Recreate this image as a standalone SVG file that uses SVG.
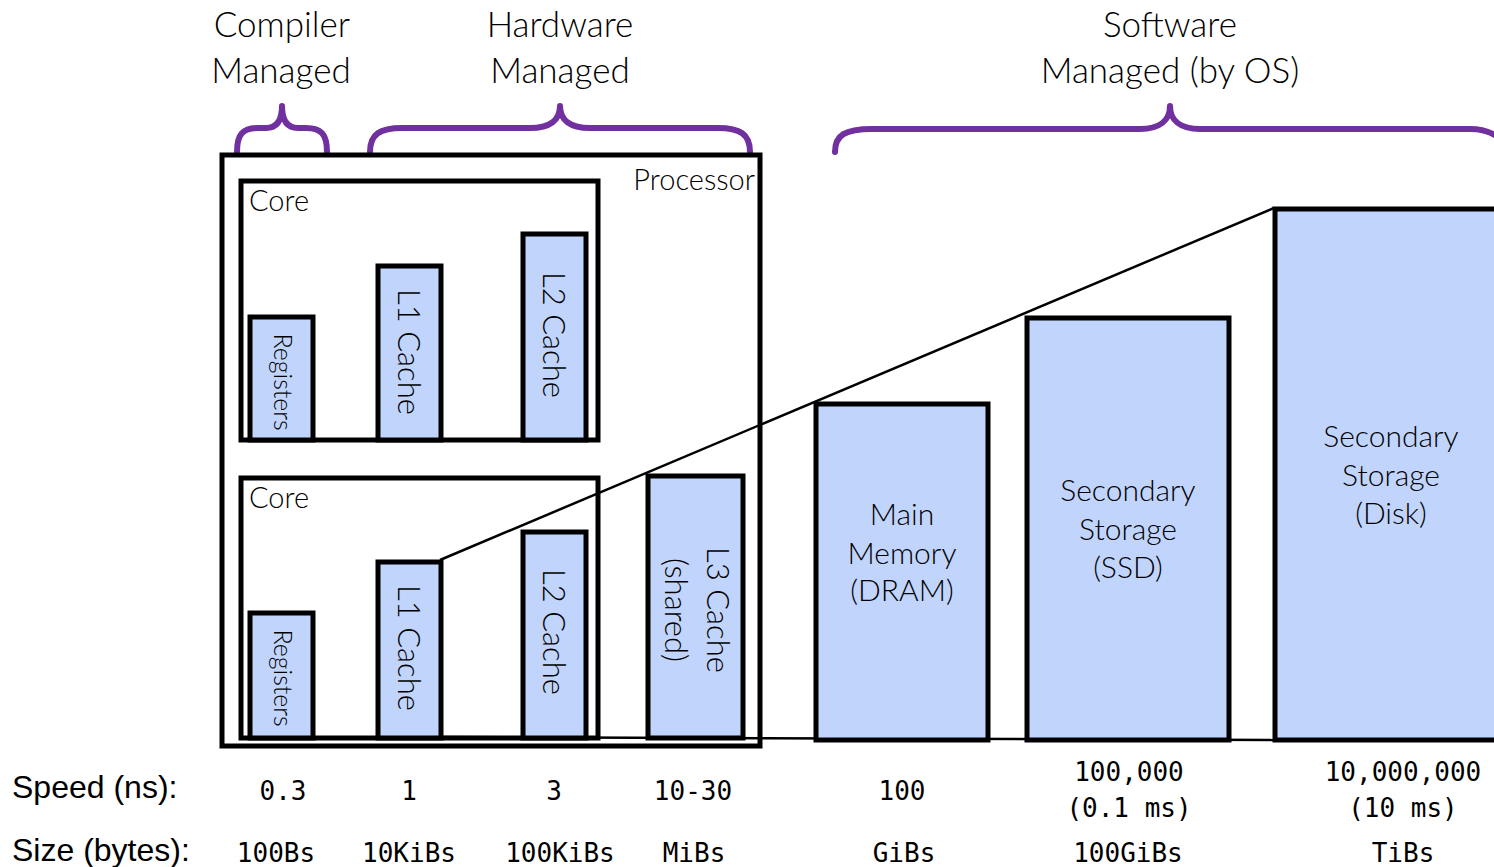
<svg xmlns="http://www.w3.org/2000/svg" width="1494" height="867" viewBox="0 0 1494 867">
<style>
.box{fill:none;stroke:#000;stroke-width:5}
.mem{fill:#c1d4fc;stroke:#000;stroke-width:5}
.brace{fill:none;stroke:#7030a0;stroke-width:6;stroke-linecap:round;stroke-linejoin:round}
.ln{fill:none;stroke:#000;stroke-width:2.5}
.hd{font-family:Lato,"Open Sans","DejaVu Sans",sans-serif;font-weight:300;fill:#000}
.mono{font-family:"DejaVu Sans Mono","Liberation Mono",monospace;font-size:26px;fill:#000;text-anchor:middle}
.lab{font-family:"Liberation Sans",Arial,sans-serif;font-size:32px;fill:#000}
</style>
<rect width="1494" height="867" fill="#fff"/>
<g id="headers" class="hd" font-size="35" text-anchor="middle">
<text x="282" y="37">Compiler</text><text x="281" y="83">Managed</text>
<text x="560" y="37">Hardware</text><text x="560" y="83">Managed</text>
<text x="1170" y="37">Software</text><text x="1170" y="83">Managed (by OS)</text>
</g>
<g id="braces">
<path class="brace" d="M237,152 C237,134 243,128 258,128 L266,128 C277,128 282,120 282,106 C282,120 287,128 298,128 L306,128 C321,128 327,134 327,152"/>
<path class="brace" d="M370,152 C370,134 380,128 402,128 L530,128 C550,128 560,120 560,106 C560,120 570,128 590,128 L718,128 C740,128 750,134 750,152"/>
<path class="brace" d="M835,152 C835,135 845,129 872,129 L1140,129 C1160,129 1170,120 1170,106 C1170,120 1180,129 1200,129 L1470,129 C1486,129 1496,134 1504,142"/>
</g>
<g id="processor">
<rect class="box" x="222" y="155" width="538" height="591"/>
<text class="hd" x="755" y="190" font-size="29" text-anchor="end">Processor</text>
</g>
<g id="core1">
<rect class="box" x="241" y="181" width="357" height="259"/>
<text class="hd" x="249" y="211" font-size="29">Core</text>
</g>
<g id="core2">
<rect class="box" x="241" y="478" width="357" height="260"/>
<text class="hd" x="249" y="508" font-size="29">Core</text>
</g>
<g id="registers1">
<rect class="mem" x="250" y="317" width="63" height="123"/>
<text class="hd" font-size="25" text-anchor="middle" dy="0.35em" transform="translate(283,382) rotate(90)">Registers</text>
</g>
<g id="l1-1">
<rect class="mem" x="378" y="266" width="63" height="174"/>
<text class="hd" font-size="31" text-anchor="middle" dy="0.35em" transform="translate(409,352) rotate(90)">L1 Cache</text>
</g>
<g id="l2-1">
<rect class="mem" x="523" y="234" width="63" height="206"/>
<text class="hd" font-size="31" text-anchor="middle" dy="0.35em" transform="translate(554,335) rotate(90)">L2 Cache</text>
</g>
<g id="registers2">
<rect class="mem" x="250" y="613" width="63" height="125"/>
<text class="hd" font-size="25" text-anchor="middle" dy="0.35em" transform="translate(283,678) rotate(90)">Registers</text>
</g>
<g id="l1-2">
<rect class="mem" x="378" y="562" width="63" height="176"/>
<text class="hd" font-size="31" text-anchor="middle" dy="0.35em" transform="translate(409,648) rotate(90)">L1 Cache</text>
</g>
<g id="l2-2">
<rect class="mem" x="523" y="532" width="63" height="206"/>
<text class="hd" font-size="31" text-anchor="middle" dy="0.35em" transform="translate(554,632) rotate(90)">L2 Cache</text>
</g>
<g id="l3">
<rect class="mem" x="648" y="476" width="95" height="262"/>
<g class="hd" font-size="31" text-anchor="middle" transform="translate(697,610) rotate(90)">
<text y="-21" dy="0.35em">L3 Cache</text>
<text y="21" dy="0.35em">(shared)</text>
</g>
</g>
<g id="connectors">
<line class="ln" x1="440" y1="560" x2="1274" y2="208"/>
<line class="ln" x1="440" y1="737" x2="1278" y2="740"/>
</g>
<g id="dram">
<rect class="mem" x="816" y="404" width="172" height="336"/>
<g class="hd" font-size="30" text-anchor="middle">
<text x="902" y="525">Main</text><text x="902" y="564">Memory</text><text x="902" y="601">(DRAM)</text>
</g>
</g>
<g id="ssd">
<rect class="mem" x="1027" y="318" width="202" height="422"/>
<g class="hd" font-size="30" text-anchor="middle">
<text x="1128" y="501">Secondary</text><text x="1128" y="540">Storage</text><text x="1128" y="578">(SSD)</text>
</g>
</g>
<g id="disk">
<rect class="mem" x="1275" y="209" width="230" height="531"/>
<g class="hd" font-size="30" text-anchor="middle">
<text x="1391" y="447">Secondary</text><text x="1391" y="486">Storage</text><text x="1391" y="524">(Disk)</text>
</g>
</g>
<g id="speed-row">
<text class="lab" x="12" y="798">Speed (ns):</text>
<text class="mono" x="283" y="800">0.3</text>
<text class="mono" x="409" y="800">1</text>
<text class="mono" x="554" y="800">3</text>
<text class="mono" x="693" y="800">10-30</text>
<text class="mono" x="902" y="800">100</text>
<text class="mono" x="1129" y="781">100,000</text>
<text class="mono" x="1129" y="817">(0.1 ms)</text>
<text class="mono" x="1403" y="781">10,000,000</text>
<text class="mono" x="1403" y="817">(10 ms)</text>
</g>
<g id="size-row">
<text class="lab" x="12" y="861">Size (bytes):</text>
<text class="mono" x="276" y="862">100Bs</text>
<text class="mono" x="409" y="862">10KiBs</text>
<text class="mono" x="560" y="862">100KiBs</text>
<text class="mono" x="694" y="862">MiBs</text>
<text class="mono" x="904" y="862">GiBs</text>
<text class="mono" x="1128" y="862">100GiBs</text>
<text class="mono" x="1403" y="862">TiBs</text>
</g>
</svg>
